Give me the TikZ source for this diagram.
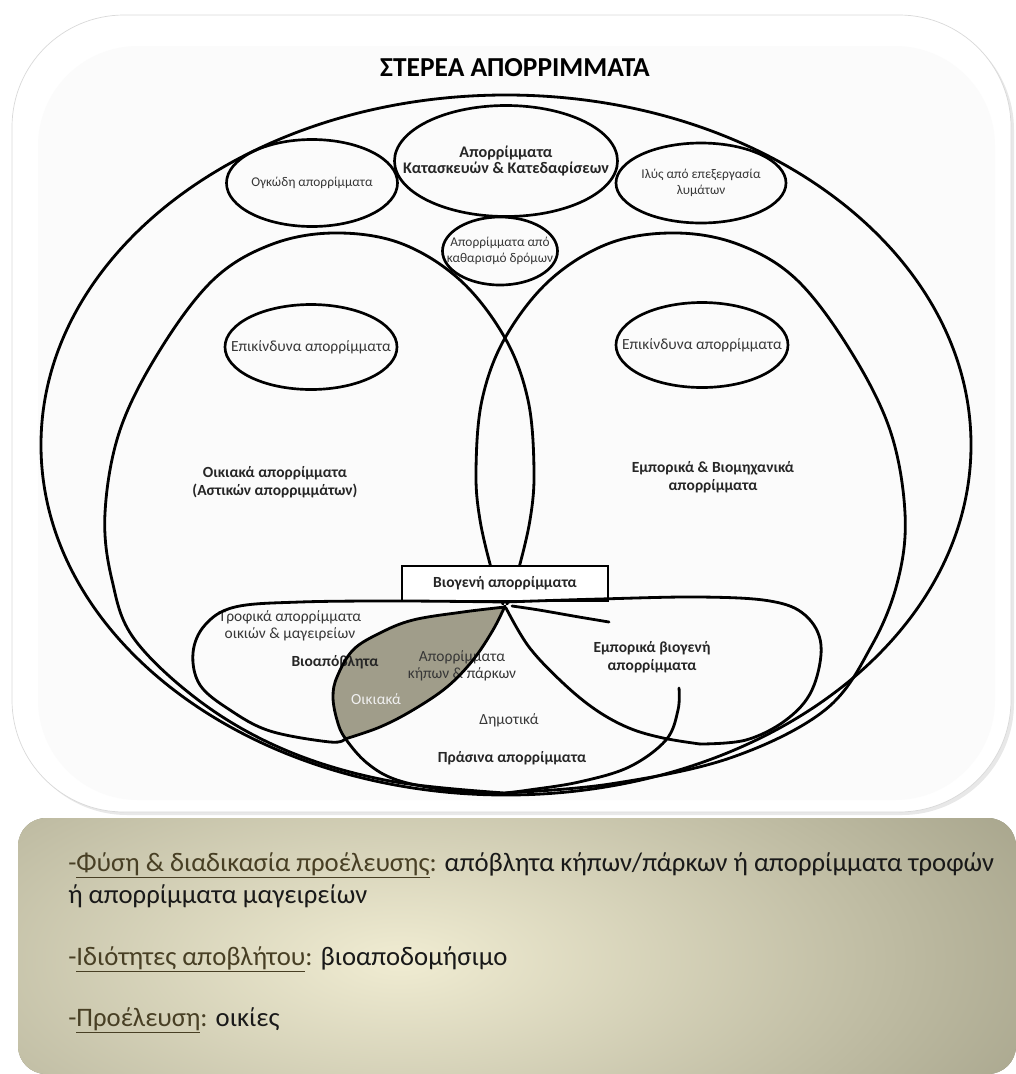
\documentclass[tikz,border=0pt]{standalone}
\usepackage{fontspec}
\setmainfont{Carlito}
\usepackage{tikz}
\usetikzlibrary{calc,shapes,positioning}
\usetikzlibrary{arrows}
\usetikzlibrary{fit}
\usetikzlibrary{arrows.meta}
\definecolor{leafgray}{RGB}{160,157,138}
\definecolor{boxdark}{RGB}{138,136,112}
\definecolor{boxlight}{RGB}{240,236,210}
\definecolor{keybrown}{RGB}{72,63,36}
\definecolor{lbltext}{RGB}{55,55,55}
\newcommand{\notekey}[1]{{\color{keybrown}-\underline{#1}:}}

\begin{document}
\begin{tikzpicture}[x=0.25mm, y=-0.25mm]
          \tikzstyle{wline} = [line width=2pt, line join=round, line cap=round]
          \tikzstyle{blob} = [draw, line width=1.9pt, ellipse, inner sep=0pt]
          \tikzstyle{slbl} = [align=center, text=lbltext, font=\fontsize{9.5}{11}\selectfont]
          \tikzstyle{mlbl} = [align=center, text=lbltext, font=\fontsize{11}{12.5}\selectfont]
          \tikzstyle{blbl} = [align=center, text=black!85, font=\fontsize{11}{13}\selectfont\bfseries]
          \tikzstyle{note} = [anchor=base west, inner sep=0pt, text=black!90, font=\fontsize{19}{22}\selectfont]

          \useasboundingbox (0,0) rectangle (1016,1074);

          % panels
          \fill[gray!18, rounded corners=28mm] (15,18) rectangle (1014,815);
          \fill[white, draw=gray!30, line width=0.5pt, rounded corners=28mm] (12,15) rectangle (1011,812);
          \fill[gray!3, rounded corners=25mm] (38,46) rectangle (995,800);
          \path[rounded corners=7mm, fill=boxdark,
            path picture={\shade[inner color=boxlight, outer color=boxdark] (400,960) ellipse [x radius=250mm, y radius=110mm];}]
            (18,818) rectangle (1016,1074);

          \node[font=\fontsize{19.5}{22}\selectfont\bfseries] (title) at (515,68) {ΣΤΕΡΕΑ ΑΠΟΡΡΙΜΜΑΤΑ};

          % ellipses
          \node[blob, line width=2pt, minimum width=232.5mm, minimum height=175mm] (solid) at (506,445) {};
          \node[blob, minimum width=42.75mm, minimum height=21.75mm] (bulky) at (312,183) {};
          \node[blob, minimum width=55.75mm, minimum height=27.75mm] (demol) at (506,161) {};
          \node[blob, minimum width=42.5mm, minimum height=20mm] (sludge) at (701,183) {};
          \node[blob, minimum width=28.75mm, minimum height=17mm] (street) at (500,251) {};
          \node[blob, minimum width=43mm, minimum height=21.25mm] (hazl) at (311,347) {};
          \node[blob, minimum width=43mm, minimum height=21.25mm] (hazr) at (702,345) {};

          \node[slbl] (bulky-t) at (bulky) {Ογκώδη απορρίμματα};
          \node[blbl, font=\fontsize{11.5}{12}\selectfont\bfseries] (demol-t) at (demol) {Απορρίμματα\\Κατασκευών \& Κατεδαφίσεων};
          \node[slbl] (sludge-t) at (sludge) {Ιλύς από επεξεργασία\\λυμάτων};
          \node[slbl] (street-t) at (street) {Απορρίμματα από\\καθαρισμό δρόμων};
          \node[mlbl] (hazl-t) at (hazl) {Επικίνδυνα απορρίμματα};
          \node[mlbl] (hazr-t) at (hazr) {Επικίνδυνα απορρίμματα};

          % household and commercial
          \draw[wline] plot[smooth, tension=0.6] coordinates {(507,604) (517,575) (530,520) (534,470) (528,400) (505,338) (460,280) (400,243) (333,233) (270,245) (213,280) (160,350) (120,430) (105,513) (112,580) (135,640) (205,705) (290,752) (390,781) (505,793)};
          \draw[wline] plot[smooth, tension=0.6] coordinates {(503,604) (493,575) (480,520) (476,470) (482,400) (505,338) (550,280) (610,243) (677,233) (740,245) (797,280) (850,350) (890,430) (905,513) (898,580) (872,645) (825,710) (730,758) (610,784) (505,793)};

          \node[blbl] (house) at (275,482) {Οικιακά απορρίμματα\\(Αστικών απορριμμάτων)};
          \node[blbl] (comm) at (713,477) {Εμπορικά \& Βιομηχανικά\\απορρίμματα};

          \node[draw, fill=white, line width=1.6pt, minimum width=51.5mm, minimum height=8.75mm, inner sep=0pt, blbl] (bio) at (505,583.5) {Βιογενή απορρίμματα};

          % biogenic part
          \fill[leafgray] plot[smooth, tension=0.6] coordinates {(505,607) (463,612) (413,620) (380,633) (353,650) (337,677) (333,697) (337,720) (345,738)}
            -- plot[smooth, tension=0.6] coordinates {(345,738) (380,727) (413,710) (447,687) (473,660) (493,630) (505,607)} -- cycle;

          \node[mlbl] (food) at (290,626) {Τροφικά απορρίμματα\\οικιών \& μαγειρείων};
          \node[blbl] (bioap) at (335,662) {Βιοαπόβλητα};
          \node[mlbl] (garden) at (462,666) {Απορρίμματα\\κήπων \& πάρκων};
          \node[mlbl, text=gray!12] (homeg) at (376,699) {Οικιακά};
          \node[mlbl] (munic) at (509,720) {Δημοτικά};
          \node[blbl] (green) at (512,758) {Πράσινα απορρίμματα};
          \node[blbl] (commbio) at (652,657) {Εμπορικά βιογενή\\απορρίμματα};

          \draw[wline] plot[smooth, tension=0.6] coordinates {(505,602) (400,601) (300,602) (235,607) (205,625) (193,653) (200,685) (230,710) (270,731) (330,742) (345,739)}
            -- plot[smooth, tension=0.6] coordinates {(345,739) (380,727) (413,710) (447,687) (473,660) (493,630) (505,606)};
          \draw[wline] plot[smooth, tension=0.6] coordinates {(505,602) (600,599) (700,597) (770,601) (805,615) (821,645) (812,690) (786,720) (746,740) (700,744)};
          \draw[wline] plot[smooth, tension=0.6] coordinates {(506,608) (529,647) (563,683) (596,710) (629,728) (663,738) (700,744)};
          \draw[wline] plot[smooth, tension=0.6] coordinates {(505,607) (463,612) (413,620) (380,633) (353,650) (337,677) (333,697) (337,720) (345,738) (367,763) (397,780) (447,790) (505,794)};
          \draw[wline] plot[smooth, tension=0.6] coordinates {(679,688) (678,710) (666,740) (629,767) (579,782) (529,790) (505,793)};
          \draw[wline] plot[smooth] coordinates {(512,606) (539,610) (579,617) (609,622)};

          % notes
          \node[note] (note1) at (68,871) {\notekey{Φύση \& διαδικασία προέλευσης} απόβλητα κήπων/πάρκων ή απορρίμματα τροφών};
          \node[note] (note2) at (68,903) {ή απορρίμματα μαγειρείων};
          \node[note] (note3) at (68,965) {\notekey{Ιδιότητες αποβλήτου} βιοαποδομήσιμο};
          \node[note] (note4) at (68,1026) {\notekey{Προέλευση} οικίες};
        \end{tikzpicture}
\end{document}
